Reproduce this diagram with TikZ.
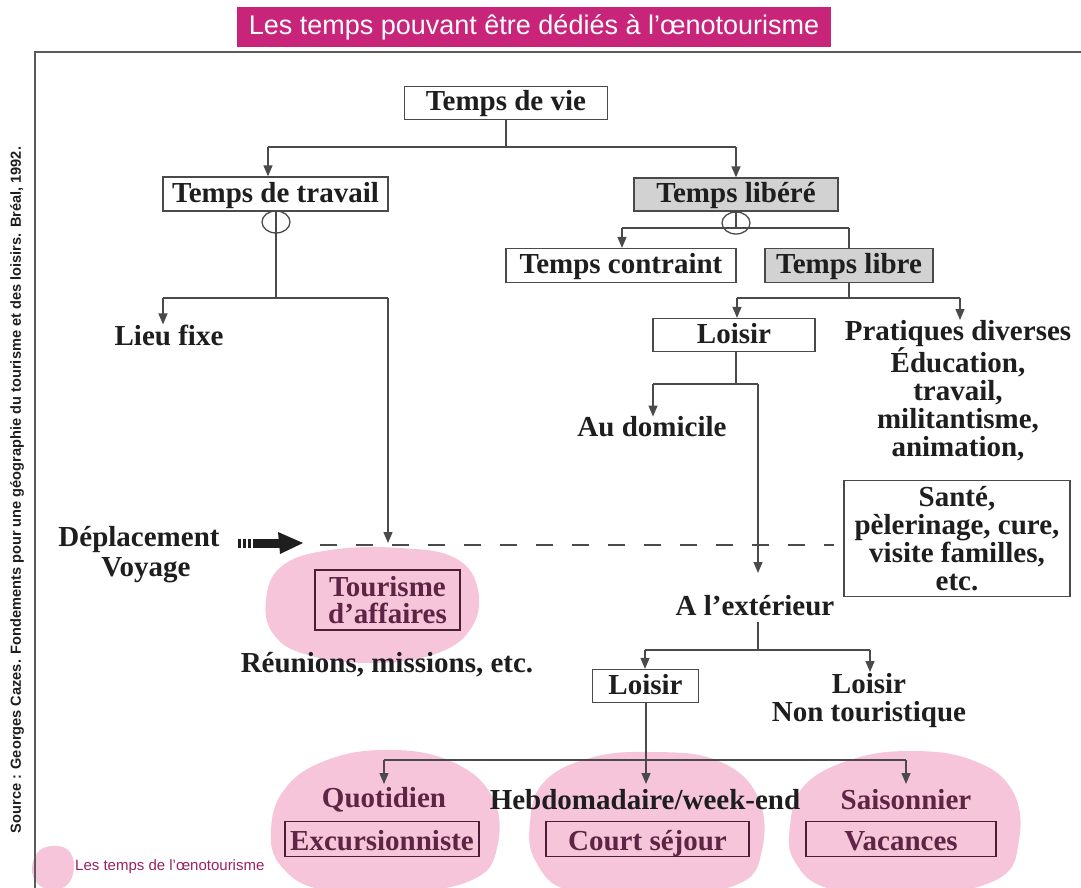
\documentclass[tikz,border=0pt]{standalone}
\usepackage{fontspec}
\setmainfont{Liberation Serif}
\newfontfamily\sansfam{Liberation Sans}
\usetikzlibrary{arrows.meta,shapes.geometric}
\definecolor{lgray}{HTML}{4A4A4A}
\definecolor{boxgray}{HTML}{D2D2D2}
\definecolor{pinkblob}{HTML}{F6C5DA}
\definecolor{plum}{HTML}{5E2444}
\definecolor{magent}{HTML}{C8247A}
\definecolor{legtxt}{HTML}{9A2063}
\definecolor{txt}{HTML}{1E1E1E}
\definecolor{framegray}{HTML}{5A5A5A}
\begin{document}
\begin{tikzpicture}[x=1pt,y=-1pt,
  lbl/.style={font=\fontsize{29}{28}\selectfont\bfseries, text=txt, inner sep=0pt, align=center},
  plumlbl/.style={lbl, text=plum},
  boxnode/.style={lbl, draw=lgray, line width=1.3pt, minimum height=33pt, text height=20pt, text depth=4pt},
  graybox/.style={boxnode, fill=boxgray},
  plumbox/.style={boxnode, text=plum, draw=plum!80!black},
  lowtext/.style={text height=22pt, text depth=0pt},
  conn/.style={draw=lgray, line width=1.3pt},
  arr/.style={conn, -{Triangle[length=11pt,width=9pt]}},
  blob/.style={fill=pinkblob, draw=none},
  ring/.style={ellipse, draw=lgray, line width=1.3pt, minimum width=28pt, minimum height=22pt, inner sep=0pt},
]
\useasboundingbox (0,0) rectangle (1081,888);

% ---------- pink blobs (background) ----------
\fill[blob] plot[smooth cycle, tension=0.7] coordinates {(266,600) (282,566) (330,550) (400,548) (455,558) (478,590) (470,630) (432,655) (370,663) (308,655) (274,635)};
\fill[blob] plot[smooth cycle, tension=0.7] coordinates {(271,830) (284,790) (322,762) (382,750) (448,760) (492,796) (497,848) (472,880) (400,893) (322,890) (281,866)};
\fill[blob] plot[smooth cycle, tension=0.7] coordinates {(530,822) (544,782) (590,758) (650,752) (716,760) (757,795) (762,850) (736,885) (650,896) (570,891) (536,862)};
\fill[blob] plot[smooth cycle, tension=0.7] coordinates {(790,826) (804,786) (850,760) (910,751) (972,760) (1012,790) (1019,840) (996,880) (910,896) (830,889) (795,862)};
\fill[blob] plot[smooth cycle, tension=0.7] coordinates {(32,868) (38,852) (52,846) (68,850) (74,866) (68,884) (52,890) (37,883)};

% ---------- title and frame ----------
\node[fill=magent, text=white, font=\sansfam\fontsize{27}{27}\selectfont, minimum width=594pt, minimum height=40pt, inner sep=0pt] (title) at (534,27) {Les temps pouvant être dédiés à l’œnotourisme};
\draw[framegray, line width=2pt] (35,888) -- (35,52) -- (1081,52);
\node[rotate=90, font=\sansfam\bfseries\fontsize{14.6}{14.6}\selectfont, text=txt] (source) at (17,490) {Source : Georges Cazes. Fondements pour une géographie du tourisme et des loisirs. Bréal, 1992.};
\node[font=\sansfam\fontsize{15}{15}\selectfont, text=legtxt, anchor=west, inner sep=0pt] (legend) at (75,867) {Les temps de l’œnotourisme};

% ---------- nodes ----------
\node[boxnode, minimum width=203pt] (vie) at (506,103) {Temps de vie};
\node[boxnode, minimum width=225pt, minimum height=34pt] (travail) at (275.5,194) {Temps de travail};
\node[graybox, minimum width=204pt] (libere) at (736,194.5) {Temps libéré};
\node[boxnode, minimum width=230pt, minimum height=34pt] (contraint) at (621,265.5) {Temps contraint};
\node[graybox, minimum width=168pt, minimum height=34pt] (libre) at (849,265.5) {Temps libre};
\node[ring] (ringT) at (276,222) {};
\node[ring] (ringL) at (736,223) {};
\node[lbl] (lieu) at (169,335) {Lieu fixe};
\node[boxnode, minimum width=162pt] (loisirA) at (734,335) {Loisir};
\node[lbl] (prat) at (958,391) {Pratiques diverses\\Éducation,\\travail,\\militantisme,\\animation,};
\node[lbl] (domicile) at (652,427) {Au domicile};
\node[draw=lgray, line width=1.3pt, lbl, minimum width=226pt, minimum height=116pt] (sante) at (957,538.5) {\raisebox{-3pt}{\parbox{220pt}{\centering Santé,\\pèlerinage, cure,\\visite familles,\\etc.}}};
\node[lbl] (depl) at (139,540) {Déplacement};
\node[lbl] (voyage) at (146,570) {Voyage};
\node[lbl, text=plum, draw=plum!80!black, line width=1.3pt, minimum width=145pt, minimum height=60pt, font=\fontsize{29}{27}\selectfont\bfseries] (tourisme) at (387.5,600) {Tourisme\\d’affaires};
\node[lbl] (ext) at (755,606) {A l’extérieur};
\node[lbl] (reunions) at (387,665) {Réunions, missions, etc.};
\node[boxnode, minimum width=106pt] (loisirB) at (645.5,686) {Loisir};
\node[lbl] (nontour) at (869,701) {Loisir\\Non touristique};
\node[plumlbl] (quot) at (384,800) {Quotidien};
\node[lbl] (hebdo) at (645,800) {Hebdomadaire/week-end};
\node[plumlbl] (saison) at (906,800) {Saisonnier};
\node[plumbox, lowtext, minimum width=194pt, minimum height=35pt] (excur) at (382,839) {Excursionniste};
\node[plumbox, lowtext, minimum width=203pt, minimum height=35pt] (court) at (647.5,839) {Court séjour};
\node[plumbox, lowtext, minimum width=190pt, minimum height=35pt] (vac) at (901,839) {Vacances};

% ---------- junction coordinates ----------
\coordinate (jv) at (506,147);
\coordinate (jvL) at (268,147);
\coordinate (jvR) at (736,147);
\coordinate (jt) at (276,298);
\coordinate (jtL) at (163,298);
\coordinate (jtR) at (388,298);
\coordinate (dashhit) at (388,543);
\coordinate (jl) at (736,228);
\coordinate (jlL) at (622,228);
\coordinate (jlR) at (849,228);
\coordinate (jb) at (849,298);
\coordinate (jbL) at (737,298);
\coordinate (jbR) at (960,298);
\coordinate (pratTop) at (960,320);
\coordinate (ja) at (736,384);
\coordinate (jaL) at (653,384);
\coordinate (jaR) at (758,384);
\coordinate (extTop) at (758,573);
\coordinate (je) at (758,622);
\coordinate (je2) at (758,650);
\coordinate (jeL) at (645,650);
\coordinate (jeR) at (870,650);
\coordinate (nontourTop) at (870,672);
\coordinate (jf) at (646,760);
\coordinate (jfL) at (384,760);
\coordinate (jfR) at (906,760);
\coordinate (jfM) at (646,784);
\coordinate (jfLd) at (384,784);
\coordinate (jfRd) at (906,784);
\coordinate (dashA) at (320,545);
\coordinate (dashB) at (834,545);
\coordinate (thickA) at (238,543);
\coordinate (thickB) at (280,543);
\coordinate (thickTip) at (303,543);

% ---------- connectors ----------
\draw[conn] (vie.south) -- (jv);
\draw[conn] (jvL) -- (jvR);
\draw[arr] (jvL) -- (jvL |- travail.north);
\draw[arr] (jvR) -- (libere.north);

\draw[conn] (travail.south -| ringT) -- (jt);
\draw[conn] (jtL) -- (jtR);
\draw[arr] (jtL) -- (jtL |- lieu.north);
\draw[arr] (jtR) -- (dashhit);

\draw[conn] (libere.south) -- (jl);
\draw[conn] (jlL) -- (jlR);
\draw[arr] (jlL) -- (jlL |- contraint.north);
\draw[conn] (jlR) -- (libre.north);

\draw[conn] (libre.south) -- (jb);
\draw[conn] (jbL) -- (jbR);
\draw[arr] (jbL) -- (jbL |- loisirA.north);
\draw[arr] (jbR) -- (pratTop);

\draw[conn] (loisirA.south -| ja) -- (ja);
\draw[conn] (jaL) -- (jaR);
\draw[arr] (jaL) -- (jaL |- domicile.north);
\draw[arr] (jaR) -- (extTop);

\draw[conn] (je) -- (je2);
\draw[conn] (jeL) -- (jeR);
\draw[arr] (jeL) -- (jeL |- loisirB.north);
\draw[arr] (jeR) -- (nontourTop);

\draw[conn] (jfL) -- (jfR);
\draw[arr] (loisirB.south -| jf) -- (jfM);
\draw[arr] (jfL) -- (jfLd);
\draw[arr] (jfR) -- (jfRd);

% dashed travel line and thick arrow
\draw[conn, dash pattern=on 17pt off 19pt] (dashA) -- (dashB);
\draw[txt, line width=9pt, dash pattern=on 2.5pt off 2.5pt on 2.5pt off 2.5pt on 2.5pt off 2pt on 40pt] (thickA) -- (thickB);
\fill[txt] (thickB) ++(-2,-11) -- (thickTip) -- ++(-23,11) -- cycle;
\end{tikzpicture}
\end{document}
